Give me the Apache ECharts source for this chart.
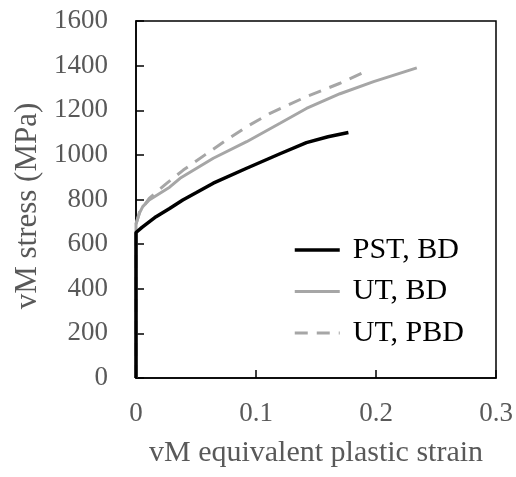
<!DOCTYPE html>
<html>
<head>
<meta charset="utf-8">
<script src="https://cdn.jsdelivr.net/npm/echarts@6/dist/echarts.min.js"></script>
<style>
html,body{margin:0;padding:0;background:#fff;}
#chart{width:516px;height:477px;}
</style>
</head>
<body>
<div id="chart"></div>
<script>
// Data
var seriesNames = ['PST, BD', 'UT, BD', 'UT, PBD'];
var pstStrain = [0, 0, 0.005, 0.0167, 0.028, 0.039, 0.05, 0.0644, 0.0922, 0.12, 0.142, 0.16, 0.177];
var pstStress = [0, 652, 675, 723, 760, 798, 830, 873, 940, 1005, 1055, 1081, 1100];
var utbdStrain = [0, 0, 0.003, 0.0056, 0.011, 0.028, 0.0367, 0.0644, 0.0922, 0.12, 0.142, 0.17, 0.198, 0.234];
var utbdStress = [0, 690, 740, 768, 798, 855, 895, 985, 1059, 1142, 1208, 1274, 1328, 1390];
var utpbdStrain = [0, 0, 0.003, 0.011, 0.025, 0.0394, 0.0575, 0.0756, 0.0922, 0.1117, 0.142, 0.17, 0.192];
var utpbdStress = [0, 690, 745, 805, 870, 932, 1000, 1067, 1126, 1186, 1261, 1321, 1375];
var xTicks = {min: 0, max: 0.3, interval: 0.1};
var yTicks = {min: 0, max: 1600, interval: 200};

function pairs(xs, ys) { return xs.map(function (x, i) { return [x, ys[i]]; }); }

var font = 'Liberation Serif, Times New Roman, serif';
var chart = echarts.init(document.getElementById('chart'));
chart.setOption({
  animation: false,
  backgroundColor: '#fff',
  grid: {left: 136, right: 20, top: 21, bottom: 99, show: true, borderColor: '#000', borderWidth: 1.5, backgroundColor: 'transparent'},
  legend: {
    data: seriesNames,
    orient: 'vertical',
    left: 288,
    top: 230,
    itemWidth: 45,
    itemHeight: 14,
    itemGap: 11.5,
    itemStyle: {opacity: 0},
    lineStyle: {width: 'inherit'},
    textStyle: {fontFamily: font, fontSize: 30, color: '#000', padding: [0, 0, 0, 8], lineHeight: 30}
  },
  xAxis: {
    type: 'value',
    min: xTicks.min, max: xTicks.max, interval: xTicks.interval,
    name: 'vM equivalent plastic strain',
    nameLocation: 'middle',
    nameGap: 60,
    nameTextStyle: {fontFamily: font, fontSize: 30, color: '#595959'},
    axisLine: {show: true, lineStyle: {color: '#000', width: 1.5}},
    axisTick: {show: true, inside: true, length: 8, lineStyle: {color: '#000', width: 1.5}},
    axisLabel: {fontFamily: font, fontSize: 27, color: '#595959', margin: 22},
    splitLine: {show: false}
  },
  yAxis: {
    type: 'value',
    min: yTicks.min, max: yTicks.max, interval: yTicks.interval,
    name: 'vM stress (MPa)',
    nameLocation: 'middle',
    nameGap: 83,
    nameTextStyle: {fontFamily: font, fontSize: 31, color: '#595959', padding: [0, 13, 0, 0]},
    axisLine: {show: true, lineStyle: {color: '#000', width: 1.5}},
    axisTick: {show: true, inside: true, length: 8, lineStyle: {color: '#000', width: 1.5}},
    axisLabel: {fontFamily: font, fontSize: 27, color: '#595959', margin: 28, formatter: function (v) { return String(v); }},
    splitLine: {show: false}
  },
  series: [
    {name: seriesNames[0], type: 'line', z: 4, symbol: 'none', data: pairs(pstStrain, pstStress),
     lineStyle: {color: '#000', width: 3.5}, itemStyle: {color: '#000'}},
    {name: seriesNames[1], type: 'line', z: 3, symbol: 'none', data: pairs(utbdStrain, utbdStress),
     lineStyle: {color: '#a6a6a6', width: 3}, itemStyle: {color: '#a6a6a6'}},
    {name: seriesNames[2], type: 'line', z: 2, symbol: 'none', data: pairs(utpbdStrain, utpbdStress),
     lineStyle: {color: '#a6a6a6', width: 3, type: [13, 9]}, itemStyle: {color: '#a6a6a6'}}
  ]
});
</script>
</body>
</html>
